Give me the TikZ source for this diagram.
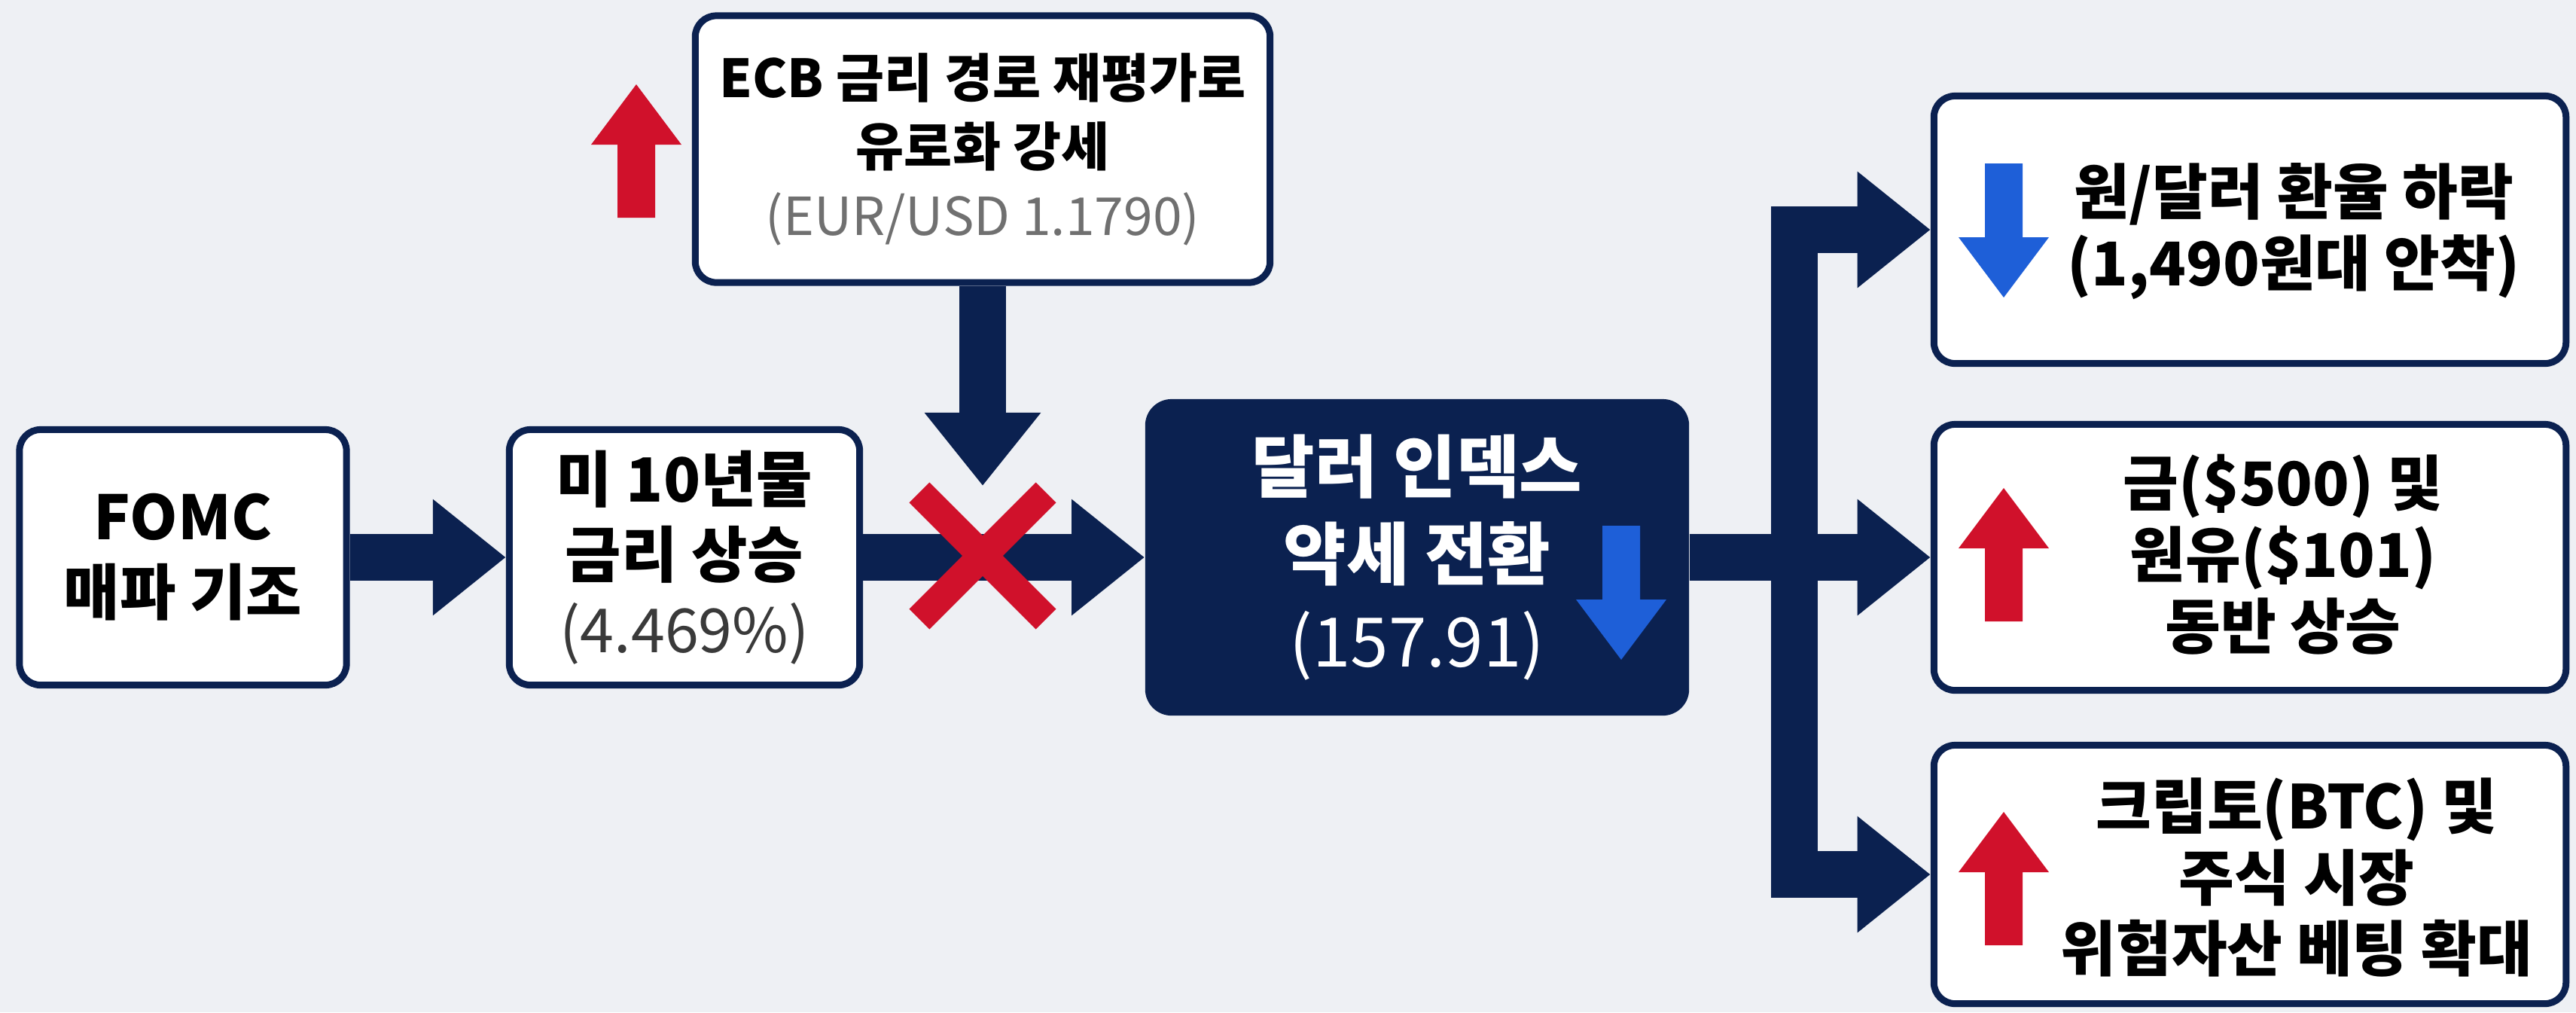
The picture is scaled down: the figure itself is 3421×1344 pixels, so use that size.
\documentclass[tikz,border=0pt]{standalone}
\usepackage{fontspec}
\setmainfont{Noto Sans CJK KR}
\usetikzlibrary{arrows.meta,shapes.misc}
\definecolor{navy}{HTML}{0B2150}
\definecolor{bg}{HTML}{EEF0F4}
\definecolor{upred}{HTML}{D0112B}
\definecolor{downblue}{HTML}{1E5FD8}
\definecolor{graytxt}{HTML}{707070}
\definecolor{darkgraytxt}{HTML}{3A3A3A}
\tikzset{
  box/.style={draw=navy, line width=0.09cm, fill=white, rounded corners=0.28cm, inner sep=0pt},
  darkbox/.style={fill=navy, rounded corners=0.35cm, text=white, inner sep=0pt},
  conn/.style={draw=navy, line width=0.62cm, -{Triangle[length=0.97cm,width=1.48cm]}},
  trunk/.style={draw=navy, line width=0.62cm, line cap=rect},
  txtA/.style={align=center, text=black, font=\fontsize{23pt}{28.5pt}\selectfont\bfseries},
  txtB/.style={align=center, text=black, font=\fontsize{19.8pt}{26pt}\selectfont\bfseries},
  txtC/.style={align=center, font=\fontsize{25.8pt}{33pt}\selectfont\bfseries},
  txtD/.style={align=center, text=black, font=\fontsize{22.8pt}{27pt}\selectfont\bfseries},
  xmarkstyle/.style={cross out, draw=upred, line width=0.38cm, minimum size=1.3cm, inner sep=0pt},
  uparr/.pic={\fill[upred] (0,0) -- (60,80) -- (25,80) -- (25,177) -- (-25,177) -- (-25,80) -- (-60,80) -- cycle;},
  downarr/.pic={\fill[downblue] (0,0) -- (60,-80) -- (25,-80) -- (25,-178) -- (-25,-178) -- (-25,-80) -- (-60,-80) -- cycle;}
}
\begin{document}
\begin{tikzpicture}[x=0.01cm, y=-0.01cm]
\useasboundingbox (0,0) rectangle (3421,1344);
\fill[bg] (0,0) rectangle (3421,1344);

% boxes
\node[box, minimum width=4.34cm, minimum height=3.39cm, txtA] (fomc) at (243,740) {FOMC\\매파 기조};
\node[box, minimum width=4.65cm, minimum height=3.39cm, txtA] (yield) at (909,740) {미 10년물\\금리 상승\\{\mdseries\color{darkgraytxt}(4.469\%)}};
\node[box, minimum width=7.63cm, minimum height=3.54cm, txtB] (ecb) at (1305,198) {ECB 금리 경로 재평가로\\유로화 강세\\{\mdseries\color{graytxt}(EUR/USD 1.1790)}};
\node[darkbox, minimum width=7.22cm, minimum height=4.20cm, txtC] (dxy) at (1882,740) {달러 인덱스\\약세 전환\\{\mdseries(157.91)}};

\node[box, minimum width=8.39cm, minimum height=3.55cm] (won) at (2988,305) {};
\node[txtD] (wont) at (3046,307) {원/달러 환율 하락\\(1,490원대 안착)};
\node[box, minimum width=8.39cm, minimum height=3.53cm] (commod) at (2988,740) {};
\node[txtD] (commodt) at (3032,736) {금(\$500) 및\\원유(\$101)\\동반 상승};
\node[box, minimum width=8.39cm, minimum height=3.43cm] (risk) at (2988,1161) {};
\node[txtD] (riskt) at (3050,1165) {크립토(BTC) 및\\주식 시장\\위험자산 베팅 확대};

% connectors
\coordinate (ecbtip) at (1305,645);
\coordinate (j) at (2383,740);
\draw[conn] (fomc) -- (yield);
\draw[conn] (yield) -- (dxy);
\draw[conn] (ecb.south) -- (ecbtip);
\node[xmarkstyle] (xmark) at (1305,738) {};

\draw[trunk] (j |- won.west) -- (j |- risk.west);
\draw[conn] (j |- won.west) -- (won.west);
\draw[conn] (dxy.east) -- (commod.west);
\draw[conn] (j |- risk.west) -- (risk.west);

% direction markers
\pic (ecbup) at (845,112) {uparr};
\pic (dxydown) at (2153,876) {downarr};
\pic (wondown) at (2661,395) {downarr};
\pic (commodup) at (2661,648) {uparr};
\pic (riskup) at (2661,1078) {uparr};
\end{tikzpicture}
\end{document}
